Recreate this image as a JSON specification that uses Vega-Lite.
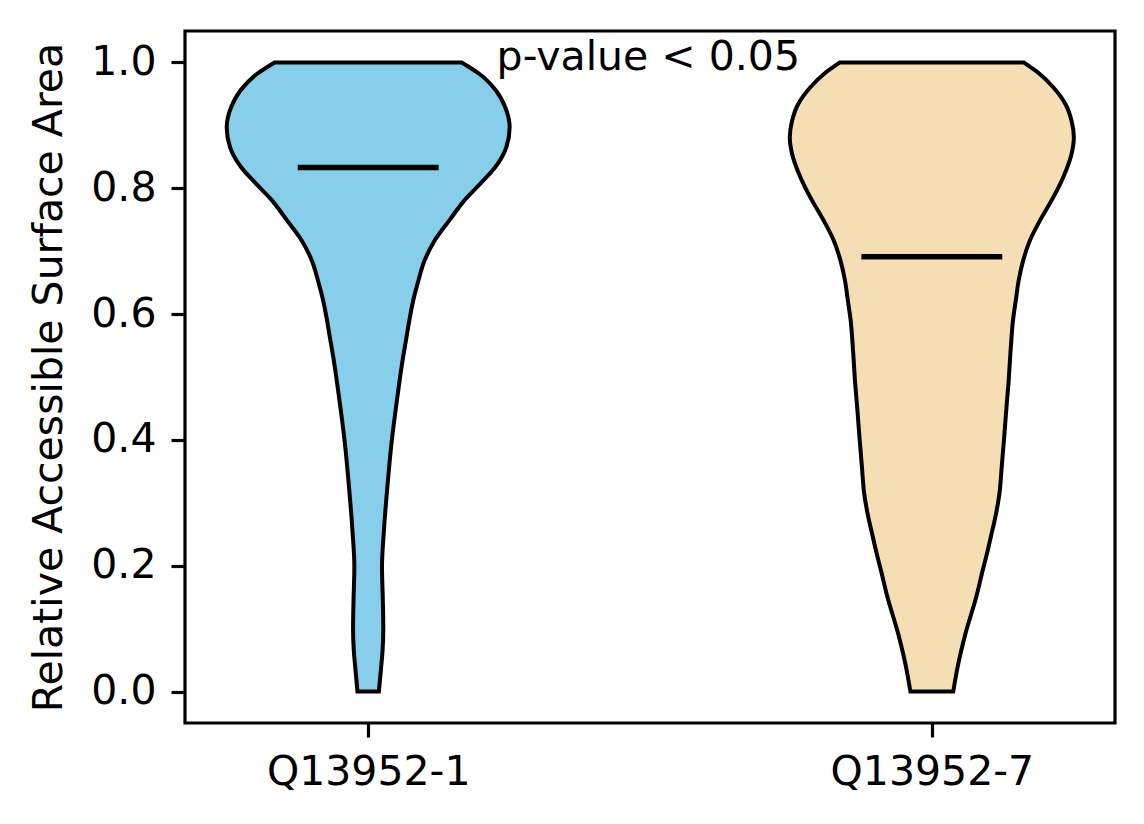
{
  "$schema": "https://vega.github.io/schema/vega-lite/v6.json",
  "width": 930,
  "height": 692,
  "autosize": "none",
  "padding": {"left": 185, "top": 31, "right": 29, "bottom": 101},
  "background": "white",
  "config": {
    "font": "DejaVu Sans",
    "view": {"stroke": "black", "strokeWidth": 3.2},
    "axis": {
      "domain": false,
      "grid": false,
      "ticks": true,
      "tickColor": "black",
      "tickSize": 14,
      "tickWidth": 3.2,
      "labelFont": "DejaVu Sans",
      "labelFontSize": 41,
      "labelColor": "black",
      "labelPadding": 15,
      "labelLimit": 0,
      "titleFont": "DejaVu Sans",
      "titleFontSize": 41,
      "titleFontWeight": "normal",
      "titleColor": "black"
    }
  },
  "datasets": {
    "violins": [
      {"isoform": "Q13952-1", "rsa": 0.0, "lo": 0.981, "hi": 1.019},
      {"isoform": "Q13952-1", "rsa": 0.039, "lo": 0.977, "hi": 1.023},
      {"isoform": "Q13952-1", "rsa": 0.065, "lo": 0.9745, "hi": 1.0255},
      {"isoform": "Q13952-1", "rsa": 0.1, "lo": 0.9732, "hi": 1.0268},
      {"isoform": "Q13952-1", "rsa": 0.145, "lo": 0.974, "hi": 1.026},
      {"isoform": "Q13952-1", "rsa": 0.198, "lo": 0.9755, "hi": 1.0245},
      {"isoform": "Q13952-1", "rsa": 0.257, "lo": 0.972, "hi": 1.028},
      {"isoform": "Q13952-1", "rsa": 0.325, "lo": 0.966, "hi": 1.034},
      {"isoform": "Q13952-1", "rsa": 0.4, "lo": 0.958, "hi": 1.042},
      {"isoform": "Q13952-1", "rsa": 0.463, "lo": 0.949, "hi": 1.051},
      {"isoform": "Q13952-1", "rsa": 0.532, "lo": 0.938, "hi": 1.062},
      {"isoform": "Q13952-1", "rsa": 0.558, "lo": 0.933, "hi": 1.067},
      {"isoform": "Q13952-1", "rsa": 0.59, "lo": 0.927, "hi": 1.073},
      {"isoform": "Q13952-1", "rsa": 0.622, "lo": 0.92, "hi": 1.08},
      {"isoform": "Q13952-1", "rsa": 0.653, "lo": 0.911, "hi": 1.089},
      {"isoform": "Q13952-1", "rsa": 0.685, "lo": 0.9, "hi": 1.1},
      {"isoform": "Q13952-1", "rsa": 0.717, "lo": 0.882, "hi": 1.118},
      {"isoform": "Q13952-1", "rsa": 0.749, "lo": 0.856, "hi": 1.144},
      {"isoform": "Q13952-1", "rsa": 0.78, "lo": 0.83, "hi": 1.17},
      {"isoform": "Q13952-1", "rsa": 0.812, "lo": 0.796, "hi": 1.204},
      {"isoform": "Q13952-1", "rsa": 0.833, "lo": 0.775, "hi": 1.225},
      {"isoform": "Q13952-1", "rsa": 0.865, "lo": 0.755, "hi": 1.245},
      {"isoform": "Q13952-1", "rsa": 0.897, "lo": 0.749, "hi": 1.251},
      {"isoform": "Q13952-1", "rsa": 0.929, "lo": 0.757, "hi": 1.243},
      {"isoform": "Q13952-1", "rsa": 0.955, "lo": 0.773, "hi": 1.227},
      {"isoform": "Q13952-1", "rsa": 0.982, "lo": 0.803, "hi": 1.197},
      {"isoform": "Q13952-1", "rsa": 1.0, "lo": 0.834, "hi": 1.166},
      {"isoform": "Q13952-7", "rsa": 0.0, "lo": 1.962, "hi": 2.038},
      {"isoform": "Q13952-7", "rsa": 0.04, "lo": 1.954, "hi": 2.046},
      {"isoform": "Q13952-7", "rsa": 0.093, "lo": 1.94, "hi": 2.06},
      {"isoform": "Q13952-7", "rsa": 0.151, "lo": 1.921, "hi": 2.079},
      {"isoform": "Q13952-7", "rsa": 0.188, "lo": 1.911, "hi": 2.089},
      {"isoform": "Q13952-7", "rsa": 0.22, "lo": 1.902, "hi": 2.098},
      {"isoform": "Q13952-7", "rsa": 0.251, "lo": 1.894, "hi": 2.106},
      {"isoform": "Q13952-7", "rsa": 0.283, "lo": 1.886, "hi": 2.114},
      {"isoform": "Q13952-7", "rsa": 0.315, "lo": 1.88, "hi": 2.12},
      {"isoform": "Q13952-7", "rsa": 0.357, "lo": 1.876, "hi": 2.124},
      {"isoform": "Q13952-7", "rsa": 0.4, "lo": 1.872, "hi": 2.128},
      {"isoform": "Q13952-7", "rsa": 0.458, "lo": 1.867, "hi": 2.133},
      {"isoform": "Q13952-7", "rsa": 0.49, "lo": 1.864, "hi": 2.136},
      {"isoform": "Q13952-7", "rsa": 0.532, "lo": 1.861, "hi": 2.139},
      {"isoform": "Q13952-7", "rsa": 0.558, "lo": 1.859, "hi": 2.141},
      {"isoform": "Q13952-7", "rsa": 0.59, "lo": 1.856, "hi": 2.144},
      {"isoform": "Q13952-7", "rsa": 0.622, "lo": 1.851, "hi": 2.149},
      {"isoform": "Q13952-7", "rsa": 0.653, "lo": 1.846, "hi": 2.154},
      {"isoform": "Q13952-7", "rsa": 0.685, "lo": 1.838, "hi": 2.162},
      {"isoform": "Q13952-7", "rsa": 0.717, "lo": 1.826, "hi": 2.174},
      {"isoform": "Q13952-7", "rsa": 0.749, "lo": 1.808, "hi": 2.192},
      {"isoform": "Q13952-7", "rsa": 0.78, "lo": 1.788, "hi": 2.212},
      {"isoform": "Q13952-7", "rsa": 0.802, "lo": 1.775, "hi": 2.225},
      {"isoform": "Q13952-7", "rsa": 0.828, "lo": 1.762, "hi": 2.238},
      {"isoform": "Q13952-7", "rsa": 0.855, "lo": 1.752, "hi": 2.248},
      {"isoform": "Q13952-7", "rsa": 0.881, "lo": 1.748, "hi": 2.252},
      {"isoform": "Q13952-7", "rsa": 0.907, "lo": 1.752, "hi": 2.248},
      {"isoform": "Q13952-7", "rsa": 0.934, "lo": 1.763, "hi": 2.237},
      {"isoform": "Q13952-7", "rsa": 0.961, "lo": 1.785, "hi": 2.215},
      {"isoform": "Q13952-7", "rsa": 0.982, "lo": 1.809, "hi": 2.191},
      {"isoform": "Q13952-7", "rsa": 1.0, "lo": 1.837, "hi": 2.163}
    ],
    "medians": [
      {"isoform": "Q13952-1", "median": 0.833, "lo": 0.875, "hi": 1.125},
      {"isoform": "Q13952-7", "median": 0.691, "lo": 1.875, "hi": 2.125}
    ],
    "notes": [
      {"x": 1.497, "y": 1.0, "label": "p-value < 0.05"}
    ]
  },
  "layer": [
    {
      "data": {"name": "violins"},
      "mark": {
        "type": "area",
        "orient": "horizontal",
        "interpolate": "monotone",
        "stroke": "black",
        "strokeWidth": 4,
        "opacity": 1,
        "fillOpacity": 1
      },
      "encoding": {
        "y": {
          "field": "rsa",
          "type": "quantitative",
          "scale": {"domain": [-0.05, 1.05], "nice": false, "zero": false},
          "axis": {
            "title": "Relative Accessible Surface Area",
            "values": [0, 0.2, 0.4, 0.6, 0.8, 1.0],
            "format": ".1f",
            "titlePadding": 20
          }
        },
        "x": {
          "field": "lo",
          "type": "quantitative",
          "scale": {"domain": [0.675, 2.325], "nice": false, "zero": false},
          "axis": {
            "title": null,
            "values": [1, 2],
            "labelExpr": "datum.value == 1 ? 'Q13952-1' : 'Q13952-7'"
          }
        },
        "x2": {"field": "hi"},
        "color": {
          "field": "isoform",
          "type": "nominal",
          "scale": {"domain": ["Q13952-1", "Q13952-7"], "range": ["#87CEEB", "#F5DEB3"]},
          "legend": null
        }
      }
    },
    {
      "data": {"name": "medians"},
      "mark": {"type": "rule", "color": "black", "strokeWidth": 5.5},
      "encoding": {
        "y": {"field": "median", "type": "quantitative"},
        "x": {"field": "lo", "type": "quantitative"},
        "x2": {"field": "hi"}
      }
    },
    {
      "data": {"name": "notes"},
      "mark": {
        "type": "text",
        "font": "DejaVu Sans",
        "fontSize": 41,
        "color": "black",
        "align": "center",
        "baseline": "alphabetic",
        "dy": 8
      },
      "encoding": {
        "x": {"field": "x", "type": "quantitative"},
        "y": {"field": "y", "type": "quantitative"},
        "text": {"field": "label"}
      }
    }
  ]
}
